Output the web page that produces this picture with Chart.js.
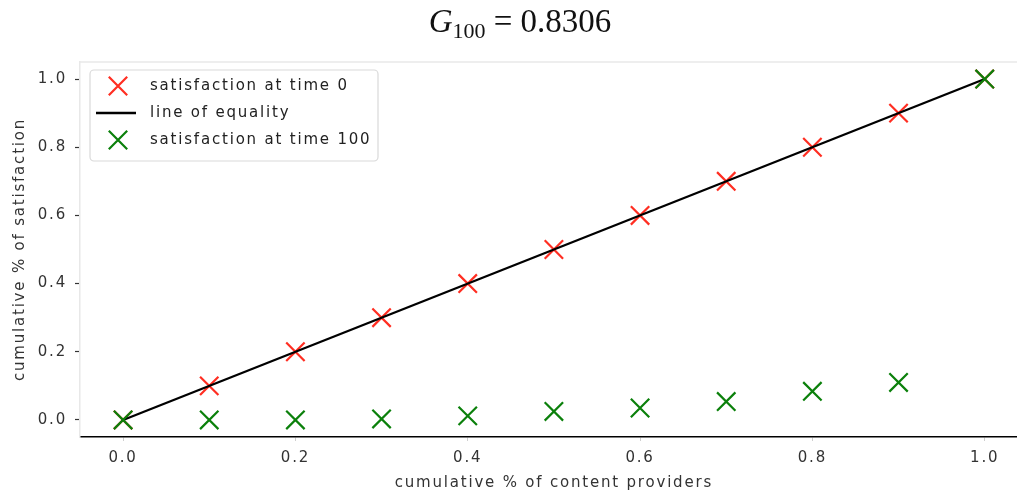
<!DOCTYPE html>
<html>
<head>
<meta charset="utf-8">
<script src="https://cdn.jsdelivr.net/npm/chart.js@4"></script>
<style>
  html, body { margin: 0; padding: 0; background: #fff; overflow: hidden; width: 1017px; height: 496px; }
  #title { position: absolute; left: 0; width: 1040px; top: 0px; text-align: center; font-family: "Liberation Serif", "DejaVu Serif", serif; font-size: 33px; color: #111; line-height: 42px; }
  #title sub { font-size: 22px; vertical-align: -6px; line-height: 0; }
  #wrap { position: absolute; left: 0; top: 0; width: 1043px; height: 496px; }
</style>
</head>
<body>
<div id="wrap"><canvas id="c" width="1043" height="496"></canvas></div>
<div id="title"><i>G</i><sub>100</sub> = 0.8306</div>
<script>
// ---- data ----
const providerShares = [0, 0.1, 0.2, 0.3, 0.4, 0.5, 0.6, 0.7, 0.8, 0.9, 1.0];
const satisfactionTime0 = [0, 0.1, 0.2, 0.3, 0.4, 0.5, 0.6, 0.7, 0.8, 0.9, 1.0];
const satisfactionTime100 = [0, 0, 0, 0.003, 0.012, 0.025, 0.035, 0.054, 0.084, 0.11, 1.0];
const equalityX = [0, 1];
const equalityY = [0, 1];
const xTicks = [0, 0.2, 0.4, 0.6, 0.8, 1.0];
const yTicks = [0, 0.2, 0.4, 0.6, 0.8, 1.0];
const seriesLabels = ['satisfaction at time 0', 'line of equality', 'satisfaction at time 100'];
const xTitle = 'cumulative % of content providers';
const yTitle = 'cumulative % of satisfaction';

const RED = '#ff2e22';
const GREEN = '#0b800b';
const FONT = 'DejaVu Sans';
const SPACING = '1.8px';

const toPts = (xs, ys) => xs.map((x, i) => ({x: x, y: ys[i]}));

const spacingPlugin = {
  id: 'spacing',
  beforeLayout(chart) { chart.ctx.letterSpacing = SPACING; },
  beforeDraw(chart) { chart.ctx.letterSpacing = SPACING; }
};

const framePlugin = {
  id: 'frame',
  beforeDatasetsDraw(chart) {
    const {ctx, chartArea} = chart;
    ctx.save();
    ctx.strokeStyle = '#e8e8e8';
    ctx.lineWidth = 1.5;
    ctx.beginPath();
    ctx.moveTo(chartArea.left, chartArea.top);
    ctx.lineTo(chartArea.right, chartArea.top);
    ctx.stroke();
    ctx.restore();
  }
};

const legendPlugin = {
  id: 'boxLegend',
  afterDraw(chart) {
    const ctx = chart.ctx;
    const ca = chart.chartArea;
    const x0 = ca.left + 10, y0 = ca.top + 8, w = 288, h = 91;
    ctx.save();
    ctx.letterSpacing = SPACING;
    ctx.fillStyle = 'rgba(255,255,255,0.85)';
    ctx.strokeStyle = '#d9d9d9';
    ctx.lineWidth = 1.2;
    ctx.beginPath();
    ctx.roundRect(x0, y0, w, h, 4);
    ctx.fill();
    ctx.stroke();
    const rows = [y0 + 16, y0 + 43, y0 + 70];
    const mx = x0 + 28;
    chart.data.datasets.forEach((ds, i) => {
      const y = rows[i];
      if (ds.showLine) {
        ctx.strokeStyle = ds.borderColor;
        ctx.lineWidth = 2.5;
        ctx.beginPath();
        ctx.moveTo(x0 + 6, y);
        ctx.lineTo(x0 + 46, y);
        ctx.stroke();
      } else {
        ctx.strokeStyle = ds.pointBorderColor;
        ctx.lineWidth = ds.pointBorderWidth;
        ctx.beginPath();
        const r = ds.pointRadius * Math.SQRT1_2;
        ctx.moveTo(mx - r, y - r); ctx.lineTo(mx + r, y + r);
        ctx.moveTo(mx + r, y - r); ctx.lineTo(mx - r, y + r);
        ctx.stroke();
      }
      ctx.fillStyle = '#222';
      ctx.font = '15px "' + FONT + '"';
      ctx.textBaseline = 'middle';
      ctx.textAlign = 'left';
      ctx.fillText(ds.label, x0 + 60, y);
    });
    ctx.restore();
  }
};

new Chart(document.getElementById('c'), {
  type: 'scatter',
  data: {
    datasets: [
      {
        label: seriesLabels[0],
        data: toPts(providerShares, satisfactionTime0),
        pointStyle: 'crossRot', pointRadius: 13, pointHoverRadius: 13,
        pointBorderColor: RED, borderColor: RED, pointBorderWidth: 2.2, borderWidth: 2.2,
        backgroundColor: RED, order: 3, clip: false
      },
      {
        label: seriesLabels[1],
        data: toPts(equalityX, equalityY),
        showLine: true, pointRadius: 0, borderColor: '#000', borderWidth: 2.3,
        order: 2, clip: false
      },
      {
        label: seriesLabels[2],
        data: toPts(providerShares, satisfactionTime100),
        pointStyle: 'crossRot', pointRadius: 13, pointHoverRadius: 13,
        pointBorderColor: GREEN, borderColor: GREEN, pointBorderWidth: 2.2, borderWidth: 2.2,
        backgroundColor: GREEN, order: 1, clip: false
      }
    ]
  },
  options: {
    responsive: false,
    animation: false,
    devicePixelRatio: 1,
    layout: { padding: { left: 0, top: 62, right: 0, bottom: 0 } },
    plugins: { legend: { display: false }, tooltip: { enabled: false }, title: { display: false } },
    scales: {
      x: {
        type: 'linear', min: -0.05, max: 1.05,
        afterBuildTicks(s) { s.ticks = xTicks.map(v => ({value: v})); },
        afterFit(s) { s.height = 59; },
        grid: { drawOnChartArea: false, drawTicks: true, tickLength: 4, tickColor: '#cfcfcf', tickWidth: 1 },
        border: { display: true, color: '#000', width: 1.6 },
        ticks: { color: '#333', padding: 8, font: { family: FONT, size: 15 }, callback: v => v.toFixed(1), maxRotation: 0 },
        title: { display: true, text: xTitle, color: '#333', font: { family: FONT, size: 15 }, padding: { top: 4, bottom: 4 } }
      },
      y: {
        type: 'linear', min: -0.05, max: 1.05,
        afterBuildTicks(s) { s.ticks = yTicks.map(v => ({value: v})); },
        afterFit(s) { s.width = 80; },
        grid: { drawOnChartArea: false, drawTicks: true, tickLength: 5, tickColor: '#333', tickWidth: 1.2 },
        border: { display: true, color: '#e8e8e8', width: 1.5 },
        ticks: { color: '#333', padding: 8, font: { family: FONT, size: 15 }, callback: v => v.toFixed(1) },
        title: { display: true, text: yTitle, color: '#333', font: { family: FONT, size: 15 }, padding: { top: 11, bottom: 11 } }
      }
    }
  },
  plugins: [spacingPlugin, framePlugin, legendPlugin]
});
</script>
</body>
</html>
